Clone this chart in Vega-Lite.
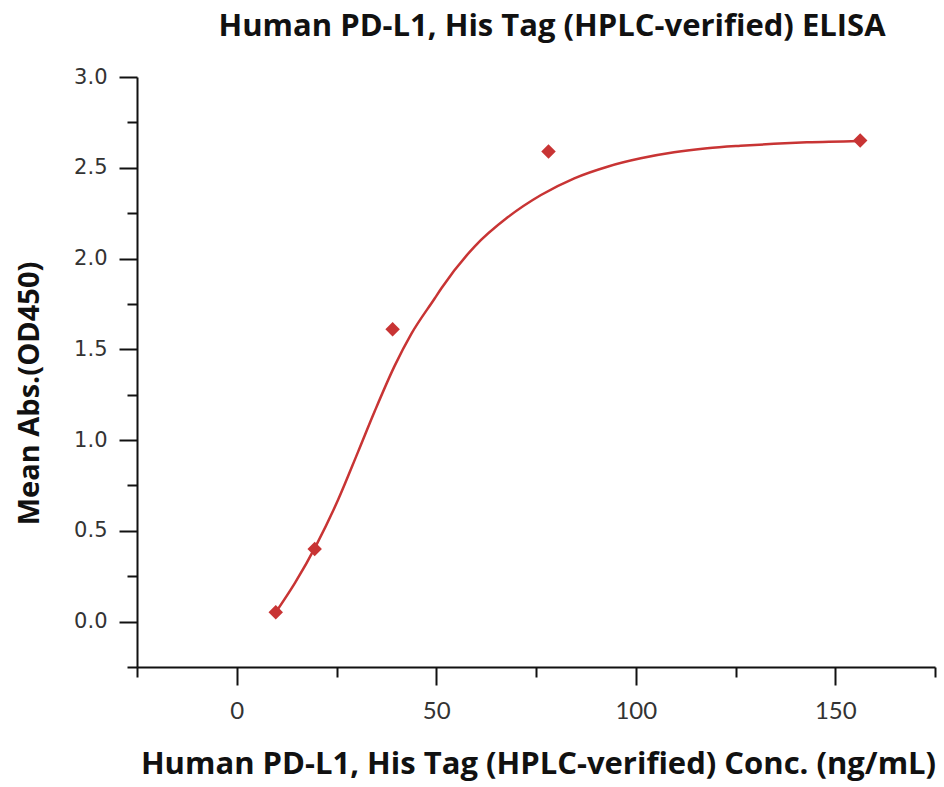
{
  "$schema": "https://vega.github.io/schema/vega-lite/v6.json",
  "width": 798,
  "height": 590,
  "autosize": {"type": "none"},
  "padding": {"left": 137, "top": 77, "right": 9, "bottom": 120},
  "background": "white",
  "title": {
    "text": "Human PD-L1, His Tag (HPLC-verified) ELISA",
    "font": "Open Sans",
    "fontWeight": "bold",
    "fontSize": 31,
    "color": "#111111",
    "anchor": "middle",
    "offset": 23,
    "dx": 16
  },
  "config": {
    "view": {"stroke": null},
    "axis": {"grid": false}
  },
  "datasets": {
    "points": [
      {"conc": 9.77, "od": 0.052},
      {"conc": 19.53, "od": 0.40},
      {"conc": 39.06, "od": 1.61},
      {"conc": 78.13, "od": 2.59},
      {"conc": 156.25, "od": 2.65}
    ],
    "curve": [
      {"conc": 9.9, "od": 0.055},
      {"conc": 14.6, "od": 0.213},
      {"conc": 20.0, "od": 0.424},
      {"conc": 25.4, "od": 0.671},
      {"conc": 30.4, "od": 0.935},
      {"conc": 34.6, "od": 1.16},
      {"conc": 39.6, "od": 1.41},
      {"conc": 43.75, "od": 1.585},
      {"conc": 49.6, "od": 1.78},
      {"conc": 51.25, "od": 1.835},
      {"conc": 59.6, "od": 2.066},
      {"conc": 67.9, "od": 2.227},
      {"conc": 76.25, "od": 2.35},
      {"conc": 84.6, "od": 2.442},
      {"conc": 92.9, "od": 2.506},
      {"conc": 101.25, "od": 2.552},
      {"conc": 109.6, "od": 2.585},
      {"conc": 117.9, "od": 2.607},
      {"conc": 126.25, "od": 2.621},
      {"conc": 134.6, "od": 2.632},
      {"conc": 142.9, "od": 2.64},
      {"conc": 156.25, "od": 2.648}
    ]
  },
  "encoding": {
    "x": {
      "field": "conc",
      "type": "quantitative",
      "scale": {"domain": [-25, 175], "nice": false, "zero": false},
      "axis": {
        "title": "Human PD-L1, His Tag (HPLC-verified) Conc. (ng/mL)",
        "titleFont": "Open Sans",
        "titleFontWeight": "bold",
        "titleFontSize": 31,
        "titleColor": "#111111",
        "titlePadding": 26,
        "titleX": 401,
        "values": [-25, 0, 25, 50, 75, 100, 125, 150, 175],
        "labelExpr": "datum.value % 50 === 0 ? datum.label : ''",
        "labelFont": "Lato",
        "labelFontSize": 24,
        "labelColor": "#333333",
        "labelPadding": 14,
        "labelFlush": false,
        "labelOverlap": false,
        "domainColor": "#111111",
        "domainWidth": 2,
        "tickColor": "#111111",
        "tickWidth": 2,
        "tickSize": {"condition": {"test": "datum.value % 50 !== 0", "value": 10}, "value": 18}
      }
    },
    "y": {
      "field": "od",
      "type": "quantitative",
      "scale": {"domain": [-0.25, 3.0], "nice": false, "zero": false},
      "axis": {
        "title": "Mean Abs.(OD450)",
        "titleFont": "Open Sans",
        "titleFontWeight": "bold",
        "titleFontSize": 29,
        "titleColor": "#111111",
        "titlePadding": 29,
        "titleY": 316,
        "values": [-0.25, 0, 0.25, 0.5, 0.75, 1.0, 1.25, 1.5, 1.75, 2.0, 2.25, 2.5, 2.75, 3.0],
        "format": ".1f",
        "labelExpr": "abs(datum.value*2 - round(datum.value*2)) > 0.01 ? '' : datum.label",
        "labelFont": "DejaVu Sans",
        "labelFontSize": 21,
        "labelColor": "#333333",
        "labelPadding": 12,
        "labelOverlap": false,
        "labelFlush": false,
        "domainColor": "#111111",
        "domainWidth": 2,
        "tickColor": "#111111",
        "tickWidth": 2,
        "tickSize": {"condition": {"test": "abs(datum.value*2 - round(datum.value*2)) > 0.01", "value": 10}, "value": 18}
      }
    }
  },
  "layer": [
    {
      "data": {"name": "curve"},
      "mark": {"type": "line", "color": "#C83434", "strokeWidth": 2.5, "interpolate": "monotone"}
    },
    {
      "data": {"name": "points"},
      "mark": {"type": "point", "shape": "diamond", "filled": true, "size": 210, "color": "#C83434", "opacity": 1}
    }
  ]
}
